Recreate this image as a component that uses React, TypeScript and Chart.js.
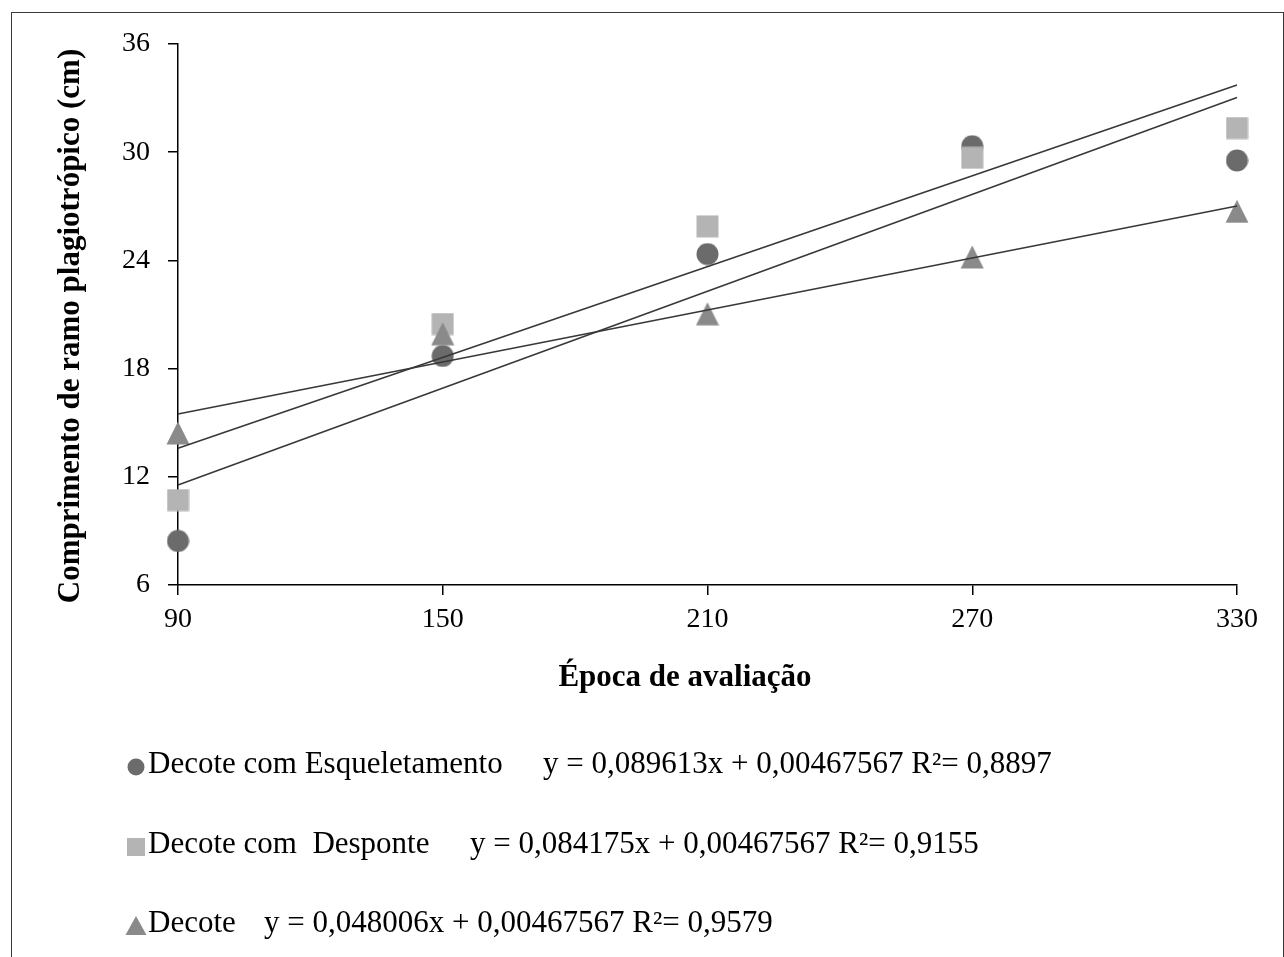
import { useEffect, useRef } from 'react';
import { Chart, registerables } from 'chart.js';

Chart.register(...registerables);

// ---- data ----
const epocas = [90, 150, 210, 270, 330];
const esqueletamento = [8.44, 18.7, 24.35, 30.33, 29.54];
const desponte = [10.71, 20.47, 25.89, 29.69, 31.34];
const decote = [14.43, 19.93, 21.04, 24.19, 26.72];

const trendX = [90, 330];
const trendEsqueletamento = [11.54, 33.04];
const trendDesponte = [13.58, 33.73];
const trendDecote = [15.48, 27.02];

const yTicks = [6, 12, 18, 24, 30, 36];
const xTicks = [90, 150, 210, 270, 330];

const seriesNames = ['Decote com Esqueletamento', 'Decote com  Desponte', 'Decote'];
const equations = [
  'y = 0,089613x + 0,00467567 R\u00B2= 0,8897',
  'y = 0,084175x + 0,00467567 R\u00B2= 0,9155',
  'y = 0,048006x + 0,00467567 R\u00B2= 0,9579',
];
const xTitle = 'Época de avaliação';
const yTitle = 'Comprimento de ramo plagiotrópico (cm)';

// ---- styles ----
const FONT = '"Liberation Serif", "Times New Roman", serif';
const C_CIRCLE = '#6b6b6b';
const C_SQUARE = '#b4b4b4';
const C_TRI = '#8a8a8a';
const C_LINE = '#383838';

function makeMarker(kind: 'circle' | 'square' | 'triangle', size: number, color: string) {
  const c = document.createElement('canvas');
  c.width = size;
  c.height = size;
  const g = c.getContext('2d')!;
  g.fillStyle = color;
  g.beginPath();
  if (kind === 'circle') {
    g.arc(size / 2, size / 2, size / 2 - 0.5, 0, Math.PI * 2);
  } else if (kind === 'square') {
    g.rect(0.5, 0.5, size - 1, size - 1);
  } else {
    g.moveTo(size / 2, 0.5);
    g.lineTo(size - 0.5, size - 0.5);
    g.lineTo(0.5, size - 0.5);
    g.closePath();
  }
  g.fill();
  return c;
}

function drawLegendMarker(ctx: CanvasRenderingContext2D, kind: string, x: number, y: number, color: string) {
  ctx.fillStyle = color;
  ctx.beginPath();
  if (kind === 'circle') {
    ctx.arc(x, y, 8.5, 0, Math.PI * 2);
  } else if (kind === 'square') {
    ctx.rect(x - 9, y - 9, 18, 18);
  } else {
    ctx.moveTo(x, y - 10);
    ctx.lineTo(x + 10.5, y + 9);
    ctx.lineTo(x - 10.5, y + 9);
    ctx.closePath();
  }
  ctx.fill();
}

const overlayPlugin = {
  id: 'overlayText',
  afterDraw(chart: any) {
    const ctx: CanvasRenderingContext2D = chart.ctx;
    ctx.save();
    ctx.fillStyle = '#000';
    ctx.textBaseline = 'middle';
    // y axis title
    ctx.save();
    ctx.translate(71, 326);
    ctx.rotate(-Math.PI / 2);
    ctx.font = `bold 31px ${FONT}`;
    ctx.textAlign = 'center';
    ctx.fillText(yTitle, 0, 0);
    ctx.restore();
    // x axis title
    ctx.font = `bold 31px ${FONT}`;
    ctx.textAlign = 'center';
    ctx.fillText(xTitle, 685, 678);
    // legend
    const kinds = ['circle', 'square', 'triangle'];
    const colors = [C_CIRCLE, C_SQUARE, C_TRI];
    const rowY = [765, 845, 924];
    const eqX = [543, 470, 264];
    ctx.font = `31px ${FONT}`;
    ctx.textAlign = 'left';
    for (let i = 0; i < 3; i++) {
      drawLegendMarker(ctx, kinds[i], 136, rowY[i] + 2, colors[i]);
      ctx.fillStyle = '#000';
      ctx.fillText(seriesNames[i], 148, rowY[i]);
      ctx.fillText(equations[i], eqX[i], rowY[i]);
    }
    ctx.restore();
  },
};

export default function App() {
  const ref = useRef<HTMLCanvasElement | null>(null);

  useEffect(() => {
    if (!ref.current) return;
    const circle = makeMarker('circle', 23, C_CIRCLE);
    const square = makeMarker('square', 23, C_SQUARE);
    const tri = makeMarker('triangle', 24, C_TRI);

    const pts = (ys: number[]) => epocas.map((x, i) => ({ x, y: ys[i] }));
    const trend = (ys: number[]) => trendX.map((x, i) => ({ x, y: ys[i] }));

    const lineDs = (ys: number[]) => ({
      type: 'line' as const,
      data: trend(ys),
      borderColor: C_LINE,
      borderWidth: 1.6,
      pointRadius: 0,
      fill: false,
      clip: false,
      order: 0,
    });

    const chart = new Chart(ref.current, {
      type: 'scatter',
      data: {
        datasets: [
          lineDs(trendEsqueletamento),
          lineDs(trendDesponte),
          lineDs(trendDecote),
          { label: seriesNames[2], data: pts(decote), pointStyle: tri as any, pointRadius: 12, clip: false, order: 1 },
          { label: seriesNames[1], data: pts(desponte), pointStyle: square as any, pointRadius: 12, clip: false, order: 2 },
          { label: seriesNames[0], data: pts(esqueletamento), pointStyle: circle as any, pointRadius: 12, clip: false, order: 3 },
        ] as any,
      },
      options: {
        animation: false,
        responsive: false,
        events: [],
        layout: { padding: { left: 20, right: 47, top: 44, bottom: 252 } },
        plugins: { legend: { display: false }, tooltip: { enabled: false }, title: { display: false } },
        scales: {
          x: {
            type: 'linear',
            min: 90,
            max: 330,
            afterBuildTicks: (s: any) => { s.ticks = xTicks.map((v) => ({ value: v })); },
            afterFit: (s: any) => { s.height = 120; },
            grid: { display: true, drawOnChartArea: false, drawTicks: true, tickLength: 10, color: '#000', lineWidth: 1.5 },
            border: { display: true, color: '#000', width: 1.5 },
            ticks: { color: '#000', font: { family: FONT, size: 28 }, padding: 8, maxRotation: 0 },
          },
          y: {
            type: 'linear',
            min: 6,
            max: 36,
            afterBuildTicks: (s: any) => { s.ticks = yTicks.map((v) => ({ value: v })); },
            afterFit: (s: any) => { s.width = 158; },
            grid: { display: true, drawOnChartArea: false, drawTicks: true, tickLength: 10, color: '#000', lineWidth: 1.5 },
            border: { display: true, color: '#000', width: 1.5 },
            ticks: { color: '#000', font: { family: FONT, size: 28 }, padding: 18 },
          },
        },
      },
      plugins: [overlayPlugin],
    });
    return () => chart.destroy();
  }, []);

  return (
    <div style={{ position: 'fixed', left: 0, top: 0, width: 1284, height: 957, overflow: 'hidden', background: '#fff' }}>
      <canvas ref={ref} width={1284} height={957} style={{ display: 'block', width: 1284, height: 957 }} />
      <div
        style={{
          position: 'absolute',
          left: 11,
          top: 12,
          width: 1273,
          height: 1000,
          border: '1px solid #3a3a3a',
          boxSizing: 'border-box',
          pointerEvents: 'none',
        }}
      />
    </div>
  );
}
